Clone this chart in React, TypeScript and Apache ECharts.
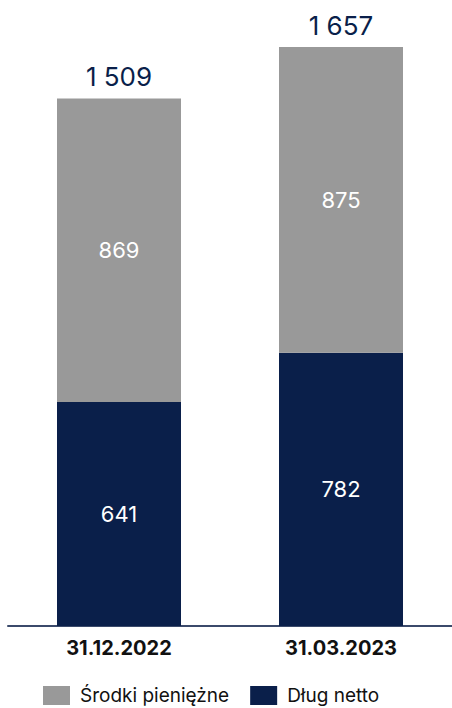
import React, { useEffect, useRef } from "react";
import * as echarts from "echarts";

const categories = ["31.12.2022", "31.03.2023"];
const netDebt = [641, 782];
const cash = [869, 875];
const totals = [1509, 1657];
const seriesNames = ["Środki pieniężne", "Dług netto"];

const NAVY = "#0a1f4a";
const GRAY = "#999999";
const FONT = "Inter, 'Noto Sans', sans-serif";

const fmt = (v: number) => String(v).replace(/\B(?=(\d{3})+(?!\d))/g, " ");

export default function App() {
  const ref = useRef<HTMLDivElement>(null);
  useEffect(() => {
    if (!ref.current) return;
    const chart = echarts.init(ref.current, undefined, { renderer: "svg" });
    chart.setOption({
      animation: false,
      textStyle: { fontFamily: FONT },
      grid: { left: 8, width: 448, top: 32, bottom: 82 },
      legend: {
        top: 686,
        left: 43,
        padding: 0,
        itemWidth: 27,
        itemHeight: 19,
        itemGap: 21,
        icon: "rect",
        textStyle: { fontSize: 19, color: "#111", fontFamily: FONT, padding: [0, 0, 0, 5] },
        data: [seriesNames[0], seriesNames[1]],
      },
      xAxis: {
        type: "category",
        data: categories,
        axisLine: { lineStyle: { color: "#3b4a6b", width: 2 } },
        axisTick: { show: false },
        axisLabel: { fontSize: 20, fontWeight: "bold", color: "#111", margin: 12, fontFamily: FONT },
      },
      yAxis: { type: "value", min: 0, max: 1700, show: false, splitLine: { show: false } },
      series: [
        {
          name: seriesNames[1],
          type: "bar",
          stack: "s",
          barWidth: 124,
          data: netDebt,
          itemStyle: { color: NAVY },
          label: { show: true, position: "inside", color: "#fff", fontSize: 22, fontFamily: FONT, formatter: (p: any) => fmt(p.value) },
        },
        {
          name: seriesNames[0],
          type: "bar",
          stack: "s",
          barWidth: 124,
          data: cash,
          itemStyle: { color: GRAY },
          label: { show: true, position: "inside", color: "#fff", fontSize: 22, fontFamily: FONT, formatter: (p: any) => fmt(p.value) },
        },
        {
          name: "total",
          type: "line",
          data: totals,
          symbol: "circle",
          symbolSize: 2,
          showSymbol: true,
          itemStyle: { color: "rgba(0,0,0,0)" },
          lineStyle: { color: "rgba(0,0,0,0)", width: 0 },
          silent: true,
          label: { show: true, position: "top", distance: 8, color: NAVY, fontSize: 26, fontFamily: FONT, formatter: (p: any) => fmt(p.value) },
        },
      ],
    });
    return () => chart.dispose();
  }, []);
  return <div ref={ref} style={{ position: "absolute", left: 0, top: 0, width: 452, height: 708 }} />;
}
